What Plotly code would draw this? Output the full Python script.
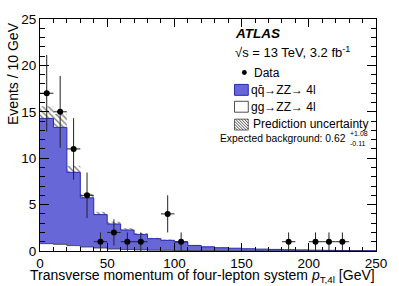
import numpy as np
import plotly.graph_objects as go

# ---------------- data ----------------
bin_edges = list(range(0, 260, 10))
qq_zz = [13.5, 12.6, 7.9, 5.3, 3.6, 2.7, 2.1, 1.67, 1.24, 1.08, 0.92, 0.56, 0.42,
         0.32, 0.28, 0.22, 0.19, 0.16, 0.13, 0.11, 0.08, 0.06, 0.05, 0.04, 0.03]
gg_zz = [0.79, 0.72, 0.58, 0.43, 0.32, 0.21, 0.16, 0.12, 0.09, 0.07, 0.05, 0.04, 0.03,
         0.03, 0.02, 0.02, 0.01, 0.01, 0.01, 0.01, 0.01, 0.01, 0.0, 0.0, 0.0]
pred_unc = [1.3, 1.45, 0.7, 0.45, 0.3, 0.25, 0.2, 0.15, 0.1, 0.1, 0.08, 0.05, 0.04,
            0.03, 0.03, 0.02, 0.02, 0.02, 0.01, 0.01, 0.01, 0.01, 0.01, 0.01, 0.01]
data_x = [5, 15, 25, 35, 45, 55, 65, 75, 95, 105, 185, 205, 215, 225]
data_n = [17, 15, 11, 6, 1, 2, 1, 1, 4, 1, 1, 1, 1, 1]

x_ticks = [0, 50, 100, 150, 200, 250]
y_ticks = [0, 5, 10, 15, 20, 25]

# ---------------- derived ----------------
edges = np.array(bin_edges, dtype=float)
centers = 0.5 * (edges[:-1] + edges[1:])
qq = np.array(qq_zz)
gg = np.array(gg_zz)
tot = qq + gg
unc = np.array(pred_unc)
dn = np.array(data_n, dtype=float)

BLUE = "#6767d8"
BLUE_LINE = "#2a2ab0"
FONT = "Liberation Sans, Arial, sans-serif"

fig = go.Figure()

# total (qq + gg) stacked histogram, blue
fig.add_trace(go.Scatter(
    x=edges, y=np.append(tot, tot[-1]), mode="lines", line_shape="hv",
    line=dict(color=BLUE_LINE, width=1), fill="tozeroy", fillcolor=BLUE,
    hoverinfo="skip", showlegend=False))
# gg part (bottom), white
fig.add_trace(go.Scatter(
    x=edges, y=np.append(gg, gg[-1]), mode="lines", line_shape="hv",
    line=dict(color="#333333", width=0.8), fill="tozeroy", fillcolor="white",
    hoverinfo="skip", showlegend=False))
# prediction uncertainty, hatched
fig.add_trace(go.Bar(
    x=centers, y=2 * unc, base=tot - unc, width=10,
    marker=dict(color="rgba(0,0,0,0)", line=dict(width=0),
                pattern=dict(shape="\\", fgcolor="#000000", bgcolor="rgba(0,0,0,0)",
                             fillmode="overlay", size=4, solidity=0.35)),
    hoverinfo="skip", showlegend=False))
# data
fig.add_trace(go.Scatter(
    x=data_x, y=data_n, mode="markers",
    marker=dict(color="black", size=6),
    error_x=dict(type="constant", value=5, color="#222222", thickness=1, width=0),
    error_y=dict(type="data", array=np.sqrt(dn), color="#222222", thickness=1, width=0),
    hoverinfo="skip", showlegend=False))

# ---------------- layout ----------------
L, R, T, B = 40, 382, 17, 251
W, H = R - L, B - T


def px(x):
    return (x - L) / W


def py(y):
    return (B - y) / H


shapes = []
annotations = []


def text(x, y, s, size, anchor="left", yanchor="middle", **kw):
    annotations.append(dict(x=px(x), y=py(y), xref="paper", yref="paper", text=s,
                            showarrow=False, xanchor=anchor, yanchor=yanchor,
                            font=dict(family=FONT, size=size, color="black"), **kw))


text(236, 32, "<b><i>ATLAS</i></b>", 13.5)
text(236, 50, "√s = 13 TeV, 3.2 fb<sup>-1</sup>", 13)
# Data marker
shapes.append(dict(type="circle", xref="paper", yref="paper",
                   x0=px(245.5), x1=px(250.5), y0=py(68.5), y1=py(73.5),
                   fillcolor="black", line=dict(width=0)))
text(256, 71, "Data", 12)
# qq box
shapes.append(dict(type="rect", xref="paper", yref="paper",
                   x0=px(238), x1=px(252), y0=py(83), y1=py(94),
                   fillcolor=BLUE, line=dict(color=BLUE_LINE, width=1)))
text(253, 88.5, "qq\u0304\u2192ZZ\u2192 4l", 12)
# gg box
shapes.append(dict(type="rect", xref="paper", yref="paper",
                   x0=px(238), x1=px(252), y0=py(100), y1=py(111),
                   fillcolor="white", line=dict(color="#222222", width=0.8)))
text(253, 105.5, "gg\u2192ZZ\u2192 4l", 12)
# hatched box
hx0, hx1, hy0, hy1 = 238, 252, 118, 129
shapes.append(dict(type="rect", xref="paper", yref="paper",
                   x0=px(hx0), x1=px(hx1), y0=py(hy0), y1=py(hy1),
                   fillcolor="rgba(0,0,0,0)", line=dict(color="#444444", width=0.8)))
for c in np.arange(hx0 - hy1 + 3, hx1 - hy0, 3.0):
    pts = []
    for yy in (hy0, hy1):
        xx = c + yy
        if hx0 <= xx <= hx1:
            pts.append((xx, yy))
    for xx in (hx0, hx1):
        yy = xx - c
        if hy0 < yy < hy1:
            pts.append((xx, yy))
    if len(pts) >= 2:
        (a, b), (cc, d) = pts[0], pts[1]
        shapes.append(dict(type="line", xref="paper", yref="paper",
                           x0=px(a), y0=py(b), x1=px(cc), y1=py(d),
                           line=dict(color="#222222", width=0.8)))
text(255, 123, "Prediction uncertainty", 12)
text(354, 137.5, "Expected background: 0.62", 10.3, anchor="right")
text(354, 132.5, "+1.08", 7)
text(354, 142.5, "-0.11", 7)

# axis titles
text(383, 265.5,
     "Transverse momentum of four-lepton system <i>p</i><sub>T,4l</sub> [GeV]",
     14, anchor="right", yanchor="top")
annotations.append(dict(x=px(13), y=py(18), xref="paper", yref="paper",
                        text="Events / 10 GeV", textangle=-90,
                        showarrow=False, xanchor="center", yanchor="top",
                        font=dict(family=FONT, size=14, color="black")))

fig.update_layout(
    width=399, height=286,
    margin=dict(l=L, r=399 - R, t=T, b=286 - B),
    paper_bgcolor="white", plot_bgcolor="white",
    barmode="overlay", showlegend=False,
    font=dict(family=FONT, size=13.5, color="black"),
    shapes=shapes, annotations=annotations,
)
fig.update_xaxes(
    range=[0, 250], tickvals=x_ticks, ticktext=[str(v) for v in x_ticks],
    ticks="inside", ticklen=8, tickcolor="black", tickwidth=1,
    minor=dict(dtick=10, ticks="inside", ticklen=4, tickcolor="black", tickwidth=1),
    showline=True, linecolor="black", linewidth=1, mirror="allticks",
    showgrid=False, zeroline=False, tickfont=dict(size=13.5))
fig.update_yaxes(
    range=[0, 25], tickvals=y_ticks, ticktext=[str(v) for v in y_ticks],
    ticks="inside", ticklen=9, tickcolor="black", tickwidth=1,
    minor=dict(dtick=1, ticks="inside", ticklen=5, tickcolor="black", tickwidth=1),
    showline=True, linecolor="black", linewidth=1, mirror="allticks",
    showgrid=False, zeroline=False, tickfont=dict(size=13.5))

fig.write_html("out.html", config={"displayModeBar": False},
               post_script="document.body.style.margin='0px';document.body.style.padding='0px';")
